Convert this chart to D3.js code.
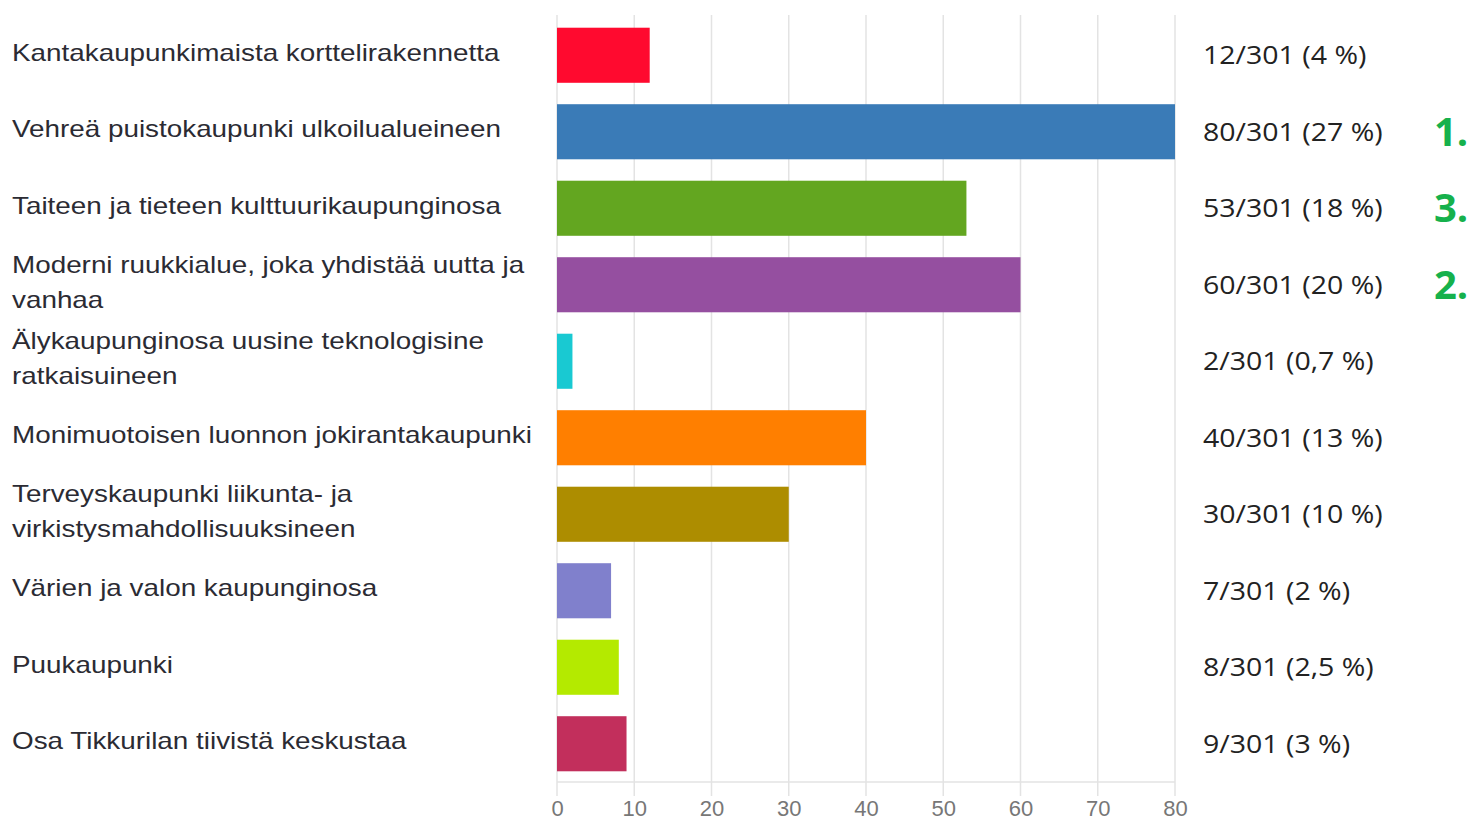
<!DOCTYPE html>
<html>
<head>
<meta charset="utf-8">
<script src="https://cdn.jsdelivr.net/npm/d3@7"></script>
<style>
  body { margin: 0; background: #fff; }
</style>
</head>
<body>
<svg id="mainFrame"></svg>
<script>
const categories = [
    "Kantakaupunkimaista korttelirakennetta",
    "Vehreä puistokaupunki ulkoilualueineen",
    "Taiteen ja tieteen kulttuurikaupunginosa",
    "Moderni ruukkialue, joka yhdistää uutta ja\nvanhaa",
    "Älykaupunginosa uusine teknologisine\nratkaisuineen",
    "Monimuotoisen luonnon jokirantakaupunki",
    "Terveyskaupunki liikunta- ja\nvirkistysmahdollisuuksineen",
    "Värien ja valon kaupunginosa",
    "Puukaupunki",
    "Osa Tikkurilan tiivistä keskustaa"
];
const counts = [12, 80, 53, 60, 2, 40, 30, 7, 8, 9];
const shares = ["4 %", "27 %", "18 %", "20 %", "0,7 %", "13 %", "10 %", "2 %", "2,5 %", "3 %"];
const total = 301;
const ranks = ["", "1.", "3.", "2.", "", "", "", "", "", ""];
const colors = ["#ff0a2f", "#3a7bb7", "#63a620", "#954fa0", "#19c9d2",
                "#ff7f00", "#ad8d00", "#8080cc", "#b4ea00", "#c22f5c"];
const ticks = [0, 10, 20, 30, 40, 50, 60, 70, 80];

const width = 1472;
const height = 821;

const data = categories.map((name, i) => ({
    name: name,
    value: counts[i],
    share: shares[i],
    rank: ranks[i],
    color: colors[i]
}));

function draw(data) {
    const x = d3.scaleLinear()
        .domain([0, 80])
        .range([557, 1175]);

    const y = d3.scaleBand()
        .domain(data.map(d => d.name))
        .range([17, 782])
        .paddingInner(0.28)
        .paddingOuter(0.14);

    const svg = d3.select("#mainFrame")
        .attr("width", width)
        .attr("height", height)
        .attr("font-family", "Arial, 'Liberation Sans', sans-serif");

    // grid
    svg.append("g")
        .selectAll("line")
        .data(ticks)
        .join("line")
        .attr("x1", d => x(d))
        .attr("x2", d => x(d))
        .attr("y1", 15)
        .attr("y2", 796)
        .attr("stroke", "#e3e3e3")
        .attr("stroke-width", 1.5);

    svg.append("line")
        .attr("x1", x(0))
        .attr("x2", x(80))
        .attr("y1", 782)
        .attr("y2", 782)
        .attr("stroke", "#e3e3e3")
        .attr("stroke-width", 1.5);

    // axis labels
    const axis = svg.append("g")
        .attr("transform", "translate(0,800)")
        .call(d3.axisBottom(x).tickValues(ticks).tickSize(0).tickPadding(0));
    axis.select(".domain").remove();
    axis.selectAll("text")
        .attr("font-family", "Arial, 'Liberation Sans', sans-serif")
        .attr("font-size", 22)
        .attr("fill", "#777")
        .attr("dy", "0.71em");

    const row = svg.append("g")
        .selectAll("g")
        .data(data)
        .join("g")
        .attr("transform", d => `translate(0,${y(d.name)})`);

    row.append("rect")
        .attr("x", x(0))
        .attr("width", d => x(d.value) - x(0))
        .attr("height", y.bandwidth())
        .attr("fill", d => d.color);

    // category labels, explicit line breaks, picture is stretched sideways
    row.append("text")
        .attr("transform", "translate(12,0) scale(1.16,1)")
        .attr("font-size", 24)
        .attr("fill", "#2b2b33")
        .each(function (d) {
            const lines = d.name.split("\n");
            const t = d3.select(this);
            const lh = 35;
            const top = y.bandwidth() / 2 - 3 - (lines.length - 1) * lh / 2;
            lines.forEach((ln, j) => {
                t.append("tspan")
                    .attr("x", 0)
                    .attr("y", top + j * lh)
                    .attr("dy", "0.35em")
                    .text(ln);
            });
        });

    row.append("text")
        .attr("transform", `translate(1203,${y.bandwidth() / 2}) scale(1.14,1)`)
        .attr("dy", "0.35em")
        .attr("font-family", "'Open Sans', sans-serif")
        .attr("font-size", 25)
        .attr("fill", "#222")
        .text(d => `${d.value}/${total} (${d.share})`);

    row.append("text")
        .attr("x", 1434)
        .attr("y", y.bandwidth() / 2)
        .attr("dy", "0.35em")
        .attr("font-family", "'Open Sans', sans-serif")
        .attr("font-weight", "bold")
        .attr("font-size", 40)
        .attr("fill", "#16b14c")
        .text(d => d.rank);

    return svg.node();
}

draw(data);
</script>
</body>
</html>
